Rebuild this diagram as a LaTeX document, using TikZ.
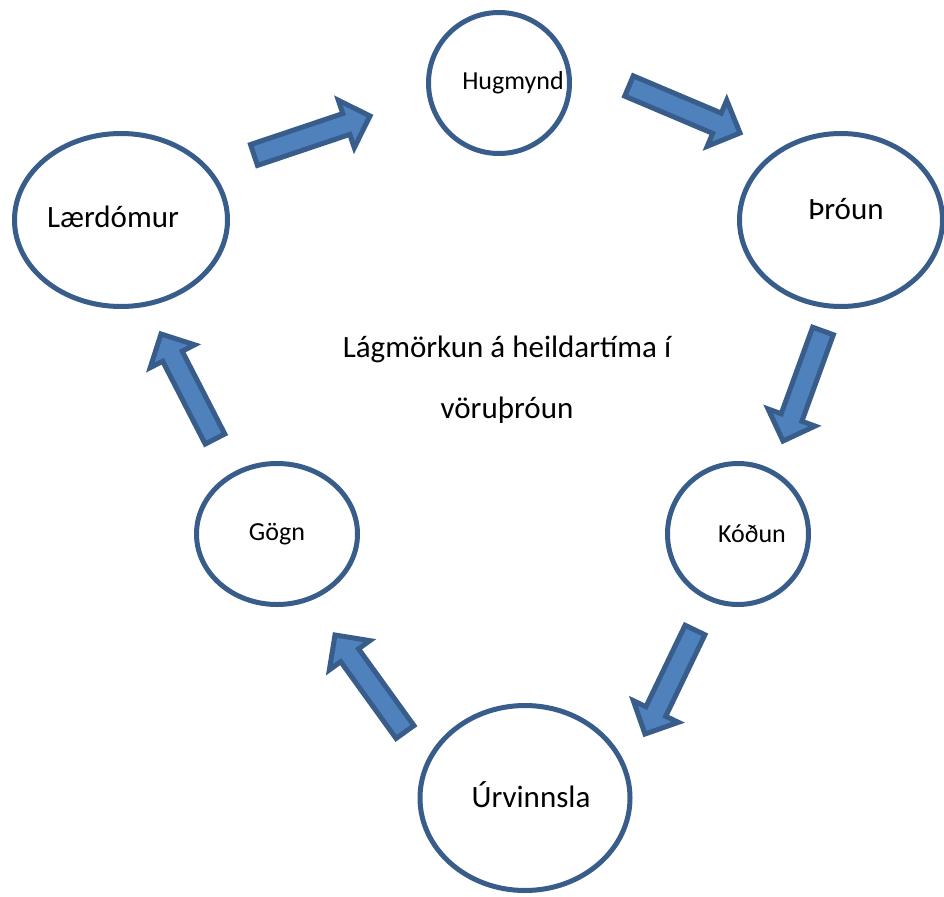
\documentclass[tikz,border=0pt]{standalone}
\usepackage{fontspec}
\setmainfont{Carlito}
\usepackage{tikz}
\usetikzlibrary{shapes.geometric, calc}
\definecolor{arrowfill}{HTML}{4F81BD}
\definecolor{arrowline}{HTML}{385D8A}

% block arrow from tail #1 to tip #2
\newcommand{\blockarrow}[2]{%
  \path ($(#2)!25pt!(#1)$) coordinate (hb);
  \draw[blockarrow] ($(#1)!11pt!-90:(#2)$) -- ($(hb)!11pt!90:(#1)$) -- ($(hb)!25pt!90:(#1)$)
    -- (#2) -- ($(hb)!25pt!-90:(#1)$) -- ($(hb)!11pt!-90:(#1)$) -- ($(#1)!11pt!90:(#2)$) -- cycle;}

\begin{document}
\begin{tikzpicture}[x=1pt,y=-1pt,
  phase/.style={ellipse, draw=arrowline, line width=5pt, fill=white, inner sep=0pt},
  bigtext/.style={font=\fontsize{31}{37}\selectfont},
  smalltext/.style={font=\fontsize{26}{31}\selectfont},
  blockarrow/.style={fill=arrowfill, draw=arrowline, line width=5pt}]
\useasboundingbox (0,0) rectangle (944,896);

% phases
\node[phase, minimum width=141pt, minimum height=141pt,
  label={[smalltext, xshift=14pt]center:Hugmynd}] (hugmynd) at (499,83) {};
\node[phase, minimum width=203pt, minimum height=173pt,
  label={[bigtext, xshift=5pt, yshift=11pt]center:Þróun}] (throun) at (841,220) {};
\node[phase, minimum width=213pt, minimum height=173pt,
  label={[bigtext, xshift=-8pt, yshift=3pt]center:Lærdómur}] (laerdomur) at (121,220) {};
\node[phase, minimum width=141pt, minimum height=141pt,
  label={[smalltext, xshift=14pt]center:Kóðun}] (kodun) at (738,534) {};
\node[phase, minimum width=161pt, minimum height=141pt,
  label={[smalltext]center:Gögn}] (gogn) at (277,534) {};
\node[phase, minimum width=210pt, minimum height=185pt,
  label={[bigtext, xshift=6pt, yshift=3pt]center:Úrvinnsla}] (urvinnsla) at (525,798) {};

\node[align=center, font=\fontsize{31}{61}\selectfont] (markmid) at (507,380)
  {Lágmörkun á heildartíma í\\ vöruþróun};

% arrow ends
\coordinate (a1t) at (254,155); \coordinate (a1h) at (370,116);
\coordinate (a2t) at (629,86);  \coordinate (a2h) at (740,133);
\coordinate (a3t) at (823,331); \coordinate (a3h) at (783,441);
\coordinate (a4t) at (695,630); \coordinate (a4h) at (645,734);
\coordinate (a5t) at (405,732); \coordinate (a5h) at (335,635);
\coordinate (a6t) at (215,439); \coordinate (a6h) at (161,334);

\blockarrow{a1t}{a1h}
\blockarrow{a2t}{a2h}
\blockarrow{a3t}{a3h}
\blockarrow{a4t}{a4h}
\blockarrow{a5t}{a5h}
\blockarrow{a6t}{a6h}
\end{tikzpicture}
\end{document}
